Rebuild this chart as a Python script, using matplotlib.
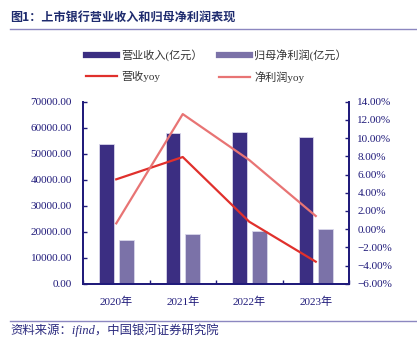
import matplotlib
matplotlib.use("Agg")
import matplotlib.pyplot as plt
from matplotlib.lines import Line2D
from matplotlib.ticker import FuncFormatter, MultipleLocator
import numpy as np

years = ['2020年', '2021年', '2022年', '2023年']
revenue = [53700, 57950, 58450, 56300]        # 营业收入(亿元)
net_profit = [16800, 19000, 20400, 20900]     # 归母净利润(亿元)
revenue_yoy = [5.47, 7.92, 0.81, -3.58]       # %
profit_yoy = [0.63, 12.64, 7.59, 1.44]        # %

navy = '#1f1a7a'
c_rev = '#3b2e82'
c_prof = '#7b72a8'
c_rev_line = '#e0302c'
c_prof_line = '#e87474'
fam = ['Liberation Serif', 'Noto Sans CJK SC']

plt.rcParams['font.family'] = fam

fig = plt.figure(figsize=(4.17, 3.44), dpi=100, facecolor='white')
ax = fig.add_axes([83/417, 1-283.7/344, 266/417, 182/344])
ax2 = ax.twinx()

x = np.arange(len(years))
w = 0.22
ax.bar(x - 0.145, revenue, w, color=c_rev, edgecolor='#d8d6ea', linewidth=0.6, zorder=2)
ax.bar(x + 0.15, net_profit, w, color=c_prof, edgecolor='#d8d6ea', linewidth=0.6, zorder=2)
ax2.plot(x, revenue_yoy, color=c_rev_line, lw=1.6)
ax2.plot(x, profit_yoy, color=c_prof_line, lw=1.6)

ax.set_xlim(-0.5, len(years) - 0.5)
ax.set_ylim(0, 70000)
ax2.set_ylim(-6, 14)
ax.yaxis.set_major_locator(MultipleLocator(10000))
ax2.yaxis.set_major_locator(MultipleLocator(2))
ax.yaxis.set_major_formatter(FuncFormatter(lambda v, p: '%.2f' % v))
ax2.yaxis.set_major_formatter(FuncFormatter(lambda v, p: ('%.2f%%' % v).replace('-', '\u2212')))

ax.set_xticks(x)
ax.set_xticklabels(years)
ax.set_xticks(np.arange(-0.5, len(years), 1.0), minor=True)
ax.tick_params(axis='x', which='major', length=0, pad=9, labelsize=8, labelcolor=navy)
ax.tick_params(axis='x', which='minor', direction='in', length=3, color=navy, width=1)
ax.tick_params(axis='y', direction='in', length=3, color=navy, width=1, labelsize=8, labelcolor=navy, pad=8)
ax2.tick_params(axis='y', direction='in', length=3, color=navy, width=1, labelsize=8, labelcolor=navy, pad=6)

for a in (ax, ax2):
    a.spines['top'].set_visible(False)
    for s in ('left', 'right', 'bottom'):
        a.spines[s].set_color(navy)
        a.spines[s].set_linewidth(1.3)

handles = [
    Line2D([], [], color=c_rev, lw=4.5),
    Line2D([], [], color=c_rev_line, lw=1.6),
    Line2D([], [], color=c_prof, lw=4.5),
    Line2D([], [], color=c_prof_line, lw=1.6),
]
labels = ['营业收入(亿元）', '营收yoy', '归母净利润(亿元）', '净利润yoy']
leg = fig.legend(handles, labels, ncol=2, loc='center', bbox_to_anchor=(0.519, 0.808),
                 frameon=False, fontsize=8, handlelength=2.8, columnspacing=1.45,
                 labelspacing=0.85, handletextpad=0.4)
for t in leg.get_texts():
    t.set_color('#333333')

fig.text(10/417, 1-17/344, '图1：上市银行营业收入和归母净利润表现', fontsize=8.7, fontweight='bold',
         color='#1e2b6e', va='center', ha='left', family=['Noto Sans CJK SC'])
fig.add_artist(Line2D([10/417, 1], [1-29/344, 1-29/344], color='#8c87c0', lw=1))
fig.add_artist(Line2D([10/417, 1], [1-321/344, 1-321/344], color='#8c87c0', lw=1))
fig.text(10/417, 1-330/344, '资料来源：ifind，中国银河证券研究院', fontsize=8.9, style='italic',
         color='#2b2a7e', va='center', ha='left')

fig.savefig('out.png', dpi=100)
